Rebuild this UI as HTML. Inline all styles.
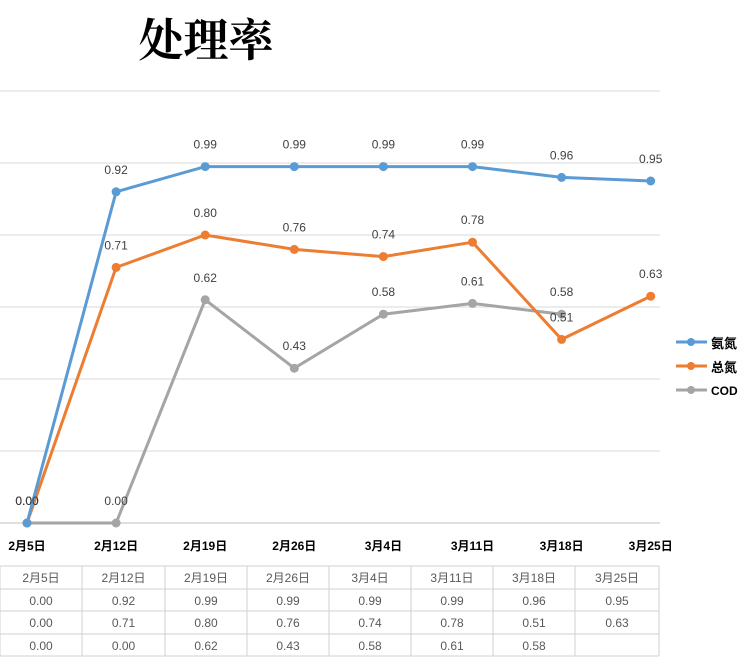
<!DOCTYPE html>
<html><head><meta charset="utf-8"><style>
body{margin:0;background:#fff;width:750px;height:666px;overflow:hidden}
svg text{font-family:"Liberation Sans","Noto Sans CJK SC",sans-serif}
</style></head><body>
<svg width="750" height="666" viewBox="0 0 750 666" xmlns="http://www.w3.org/2000/svg">
<text x="206" y="56" text-anchor="middle" font-size="45" font-weight="bold" style="font-family:'Liberation Serif','Noto Serif CJK SC',serif">处理率</text>
<g id="grid"></g><g id="lines"></g><g id="xlabels"></g><g id="table"></g>
<g>
<g><line x1="676" y1="342" x2="707" y2="342" stroke="#5b9bd5" stroke-width="3"/><circle cx="691" cy="342" r="4" fill="#5b9bd5"/><text x="711" y="348" font-size="13" font-weight="bold">氨氮</text></g>
<g><line x1="676" y1="366" x2="707" y2="366" stroke="#ed7d31" stroke-width="3"/><circle cx="691" cy="366" r="4" fill="#ed7d31"/><text x="711" y="372" font-size="13" font-weight="bold">总氮</text></g>
<g><line x1="676" y1="390" x2="707" y2="390" stroke="#a5a5a5" stroke-width="3"/><circle cx="691" cy="390" r="4" fill="#a5a5a5"/><text x="711" y="395" font-size="12" font-weight="bold">COD</text></g>
</g>
</svg>
<script>
const categories=["2月5日","2月12日","2月19日","2月26日","3月4日","3月11日","3月18日","3月25日"];
const ammonia=[0.00,0.92,0.99,0.99,0.99,0.99,0.96,0.95];
const totalN=[0.00,0.71,0.80,0.76,0.74,0.78,0.51,0.63];
const cod=[0.00,0.00,0.62,0.43,0.58,0.61,0.58,null];
const yTicks=[0,0.2,0.4,0.6,0.8,1.0,1.2];
const NS="http://www.w3.org/2000/svg";
const x=i=>27+i*89.1;
const y=v=>523-v*360;
function mk(t,a,p){const e=document.createElementNS(NS,t);for(const k in a)e.setAttribute(k,a[k]);p.appendChild(e);return e;}
const grid=document.getElementById('grid');
yTicks.forEach(t=>{const l=mk('line',{x1:0,x2:660,y1:y(t),y2:y(t),stroke:t===0?'#bfbfbf':'#d9d9d9','stroke-width':1},grid);

});
const xl=document.getElementById('xlabels');
categories.forEach((c,i)=>{const t=mk('text',{x:x(i),y:550,'text-anchor':'middle','font-size':12,'font-weight':'bold'},xl);t.textContent=c;

});
const lines=document.getElementById('lines');
function series(data,color,name){
 const g=mk('g',{},lines);
 
 
 const pts=[];data.forEach((v,i)=>{if(v!==null)pts.push([x(i),y(v)]);});
 const p=mk('polyline',{points:pts.map(q=>q.join(',')).join(' '),fill:'none',stroke:color,'stroke-width':3},g);
 
 
 data.forEach((v,i)=>{if(v===null)return;
  const c=mk('circle',{cx:x(i),cy:y(v),r:4.5,fill:color},g);
  
  
  const t=mk('text',{x:x(i),y:y(v)-18,'text-anchor':'middle','font-size':12,fill:'#404040'},g);
  t.textContent=v.toFixed(2);
  
  });
}
series(cod,'#a5a5a5','cod');
series(totalN,'#ed7d31','total-nitrogen');
series(ammonia,'#5b9bd5','ammonia');
const tb=document.getElementById('table');
const colL=[0,82,165,247,329,411,493,575,659];
const rowT=[566,589,611,634,656];
[0,1,2,3,4].forEach(r=>{const l=mk('line',{x1:0,x2:659,y1:rowT[r],y2:rowT[r],stroke:'#d0d0d0'},tb);

});
colL.forEach(c=>{const l=mk('line',{x1:c,x2:c,y1:566,y2:656,stroke:'#d0d0d0'},tb);

});
const rows=[categories,ammonia,totalN,cod];
rows.forEach((row,r)=>row.forEach((v,i)=>{if(v===null)return;
 const t=mk('text',{x:(colL[i]+colL[i+1])/2,y:rowT[r]+16,'text-anchor':'middle','font-size':12,fill:'#595959'},tb);
 t.textContent=typeof v==='number'?v.toFixed(2):v;
 
 }));
</script>
</body></html>
